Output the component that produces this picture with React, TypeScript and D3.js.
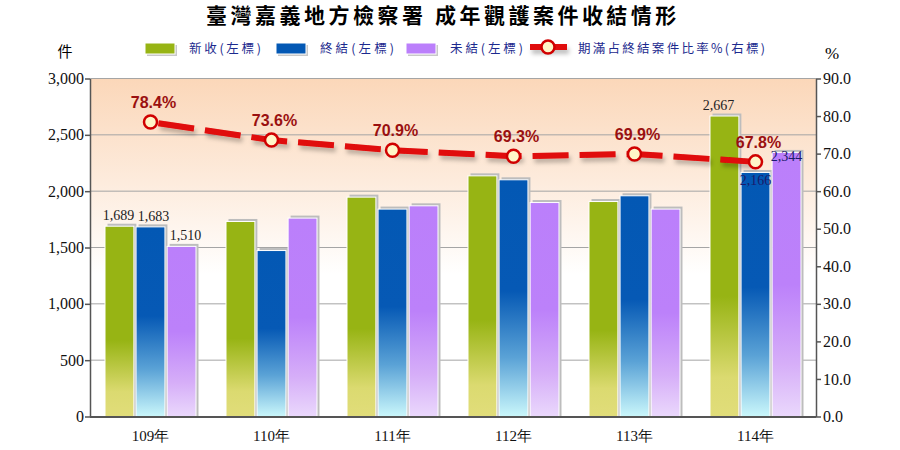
import { useEffect, useRef } from 'react'
import * as d3 from 'd3'

const years = ['109年', '110年', '111年', '112年', '113年', '114年']
const seriesNames = ['新收(左標)', '終結(左標)', '未結(左標)']
const newCases = [1689, 1731, 1947, 2136, 1908, 2667]
const closedCases = [1683, 1473, 1841, 2101, 1959, 2166]
const pendingCases = [1510, 1761, 1870, 1899, 1841, 2344]
const ratio = [78.4, 73.6, 70.9, 69.3, 69.9, 67.8]
const ratioName = '期滿占終結案件比率%(右標)'
const leftTicks = [0, 500, 1000, 1500, 2000, 2500, 3000]
const rightTicks = [0, 10, 20, 30, 40, 50, 60, 70, 80, 90]
const labeledYears = ['109年', '114年']

const W = 900
const H = 450

export default function App() {
  const svgRef = useRef<SVGSVGElement>(null)

  useEffect(() => {
    if (!svgRef.current) return
    const svg = d3.select(svgRef.current)
    svg.selectAll('*').remove()

    const left = 90, right = 816, top = 78.5, bottom = 416.5
    const serif = '"Liberation Serif", "Times New Roman", serif'
    const cjk = '"Noto Sans CJK TC", "Noto Sans", sans-serif'

    const x = d3.scaleBand().domain(years).range([left, right])
    const x1 = d3.scaleBand().domain(seriesNames).range([15, 106]).paddingInner(0.07)
    const y = d3.scaleLinear().domain([0, 3000]).range([bottom, top])
    const yR = d3.scaleLinear().domain([0, 90]).range([bottom, top])

    const defs = svg.append('defs')

    const bg = defs.append('linearGradient').attr('id', 'bg').attr('x1', 0).attr('y1', 0).attr('x2', 0).attr('y2', 1)
    bg.append('stop').attr('offset', 0).attr('stop-color', '#fbd7b9')
    bg.append('stop').attr('offset', 0.3).attr('stop-color', '#fdebdc')
    bg.append('stop').attr('offset', 0.58).attr('stop-color', '#ffffff')

    const gradStops: [number, string][][] = [
      [[0, '#97b414'], [0.6, '#97b414'], [0.87, '#dbda70'], [1, '#e1dd7a']],
      [[0, '#0358b4'], [0.47, '#0659b5'], [0.75, '#5aa2d6'], [1, '#caf7fb']],
      [[0, '#bb7ffb'], [0.5, '#bc81fa'], [0.8, '#d6aef8'], [1, '#ead8fc']],
    ]
    gradStops.forEach((stops, i) => {
      const g = defs.append('linearGradient').attr('id', `bar${i}`).attr('x1', 0).attr('y1', 0).attr('x2', 0).attr('y2', 1)
      stops.forEach(([o, c]) => g.append('stop').attr('offset', o).attr('stop-color', c))
    })

    // user-space filter region so flat shapes still get their shadow
    const shadow = defs.append('filter').attr('id', 'shadow').attr('filterUnits', 'userSpaceOnUse')
      .attr('x', 0).attr('y', 0).attr('width', W).attr('height', H)
    shadow.append('feDropShadow').attr('dx', 2).attr('dy', 4).attr('stdDeviation', 2)
      .attr('flood-color', '#000').attr('flood-opacity', 0.25)

    // title
    svg.append('text')
      .attr('x', 443).attr('y', 23)
      .attr('text-anchor', 'middle')
      .style('font-family', cjk).style('font-size', '21px').style('font-weight', 700)
      .style('letter-spacing', '3.5px')
      .text('臺灣嘉義地方檢察署 成年觀護案件收結情形')

    // unit labels
    svg.append('text').attr('x', 65).attr('y', 57).attr('text-anchor', 'middle')
      .style('font-family', cjk).style('font-size', '15px').text('件')
    svg.append('text').attr('x', 832).attr('y', 59).attr('text-anchor', 'middle')
      .style('font-family', serif).style('font-size', '17px').text('%')

    // legend
    const swatchColors = ['#97b414', '#0358b4', '#bb7ffb']
    const legendX = [145, 276, 406]
    const legendW = [72, 74, 73]
    const legend = svg.append('g')
    seriesNames.forEach((name, i) => {
      legend.append('rect').attr('x', legendX[i] + 2).attr('y', 45).attr('width', 30).attr('height', 11).attr('fill', '#c8c8c8')
      legend.append('rect').attr('x', legendX[i]).attr('y', 43).attr('width', 30).attr('height', 11)
        .attr('fill', swatchColors[i]).attr('stroke', '#fff').attr('stroke-width', 1)
      legend.append('text').attr('x', legendX[i] + 44).attr('y', 53)
        .attr('textLength', legendW[i]).attr('lengthAdjust', 'spacing')
        .style('font-family', cjk).style('font-size', '12.5px').attr('fill', '#1c2a8e')
        .text(name)
    })
    legend.append('rect').attr('x', 530).attr('y', 44).attr('width', 37).attr('height', 6)
      .attr('fill', '#e00808').attr('filter', 'url(#shadow)')
    legend.append('circle').attr('cx', 548).attr('cy', 47).attr('r', 6.5)
      .attr('fill', '#fff6c8').attr('stroke', '#d00000').attr('stroke-width', 2.5)
    legend.append('text').attr('x', 578).attr('y', 53)
      .attr('textLength', 187).attr('lengthAdjust', 'spacing')
      .style('font-family', cjk).style('font-size', '12.5px').attr('fill', '#1c2a8e')
      .text(ratioName)

    // plot background
    svg.append('rect').attr('x', left).attr('y', top).attr('width', right - left).attr('height', bottom - top)
      .attr('fill', 'url(#bg)')

    // gridlines
    svg.append('g').selectAll('line').data(leftTicks.filter(d => d > 0)).join('line')
      .attr('x1', left).attr('x2', right)
      .attr('y1', d => y(d)).attr('y2', d => y(d))
      .attr('stroke', '#a5a5a5').attr('stroke-width', 1)

    // bars
    const series = [newCases, closedCases, pendingCases]
    const bars = svg.append('g')
    series.forEach((values, si) => {
      const g = bars.append('g')
      const xPos = (i: number) => (x(years[i]) ?? 0) + (x1(seriesNames[si]) ?? 0)
      g.selectAll('rect.sh').data(values).join('rect').attr('class', 'sh')
        .attr('x', (_, i) => xPos(i) + 2.5)
        .attr('y', d => y(d) - 2.5)
        .attr('width', x1.bandwidth())
        .attr('height', d => bottom - y(d) + 2.5)
        .attr('fill', '#bdbdbd')
      g.selectAll('rect.bar').data(values).join('rect').attr('class', 'bar')
        .attr('x', (_, i) => xPos(i))
        .attr('y', d => y(d))
        .attr('width', x1.bandwidth())
        .attr('height', d => bottom - y(d))
        .attr('fill', `url(#bar${si})`)
        .attr('stroke', '#fff').attr('stroke-width', 1)
    })

    // bar value labels
    const fmt = d3.format(',')
    const firstShift = [-1, 3, 4]
    series.forEach((values, si) => {
      values.forEach((v, i) => {
        if (!labeledYears.includes(years[i])) return
        const last = i === years.length - 1
        const inside = last && si > 0
        const shift = last ? (si === 0 ? -6 : 0) : firstShift[si]
        svg.append('text')
          .attr('x', (x(years[i]) ?? 0) + (x1(seriesNames[si]) ?? 0) + x1.bandwidth() / 2 + shift)
          .attr('y', y(v) + (inside ? (si === 1 ? 13 : 9) : -6))
          .attr('text-anchor', 'middle')
          .style('font-family', serif).style('font-size', '14px')
          .attr('fill', inside ? '#1b1b6b' : '#222')
          .text(fmt(v))
      })
    })

    // axes
    const axisColor = '#555'
    const leftAxis = svg.append('g').attr('transform', `translate(${left},0)`)
      .call(d3.axisLeft(y).tickValues(leftTicks).tickFormat(d => fmt(d as number)).tickSize(5).tickSizeOuter(0))
    const rightAxis = svg.append('g').attr('transform', `translate(${right},0)`)
      .call(d3.axisRight(yR).tickValues(rightTicks).tickFormat(d => (d as number).toFixed(1)).tickSize(5).tickSizeOuter(0))
    ;[leftAxis, rightAxis].forEach(a => {
      a.select('.domain').attr('stroke', axisColor).attr('stroke-width', 1.5)
      a.selectAll('.tick line').attr('stroke', axisColor).attr('stroke-width', 1.5)
      a.selectAll('.tick text').style('font-family', serif).style('font-size', '16px').attr('fill', '#111')
    })
    rightAxis.selectAll('.tick text').attr('x', 7)
    leftAxis.selectAll('.tick text').attr('x', -6)

    svg.append('line').attr('x1', left).attr('x2', right).attr('y1', bottom + 0.5).attr('y2', bottom + 0.5)
      .attr('stroke', axisColor).attr('stroke-width', 2)

    svg.append('g').selectAll('text').data(years).join('text')
      .attr('x', d => (x(d) ?? 0) + x.bandwidth() / 2)
      .attr('y', 441)
      .attr('text-anchor', 'middle')
      .style('font-family', serif).style('font-size', '15px').attr('fill', '#111')
      .text(d => d)

    // ratio line
    const cx = (i: number) => (x(years[i]) ?? 0) + x.bandwidth() / 2
    const line = d3.line<number>().x((_, i) => cx(i)).y(d => yR(d))
    svg.append('path').datum(ratio)
      .attr('d', line)
      .attr('fill', 'none')
      .attr('stroke', '#e00808').attr('stroke-width', 6)
      .attr('stroke-dasharray', '36 11')
      .attr('stroke-dashoffset', -8)
      .attr('filter', 'url(#shadow)')

    svg.append('g').selectAll('circle').data(ratio).join('circle')
      .attr('cx', (_, i) => cx(i)).attr('cy', d => yR(d)).attr('r', 6.5)
      .attr('fill', '#fff6c8').attr('stroke', '#d00000').attr('stroke-width', 2.5)

    svg.append('g').selectAll('text').data(ratio).join('text')
      .attr('x', (_, i) => cx(i) + 3).attr('y', d => yR(d) - 14)
      .attr('text-anchor', 'middle')
      .style('font-family', '"Liberation Sans", Arial, sans-serif').style('font-size', '16px').style('font-weight', 700)
      .attr('fill', '#9a1010')
      .text(d => d.toFixed(1) + '%')
  }, [])

  return (
    <svg ref={svgRef} width={W} height={H}
      style={{ position: 'absolute', left: 0, top: 0, display: 'block', background: '#fff' }} />
  )
}
